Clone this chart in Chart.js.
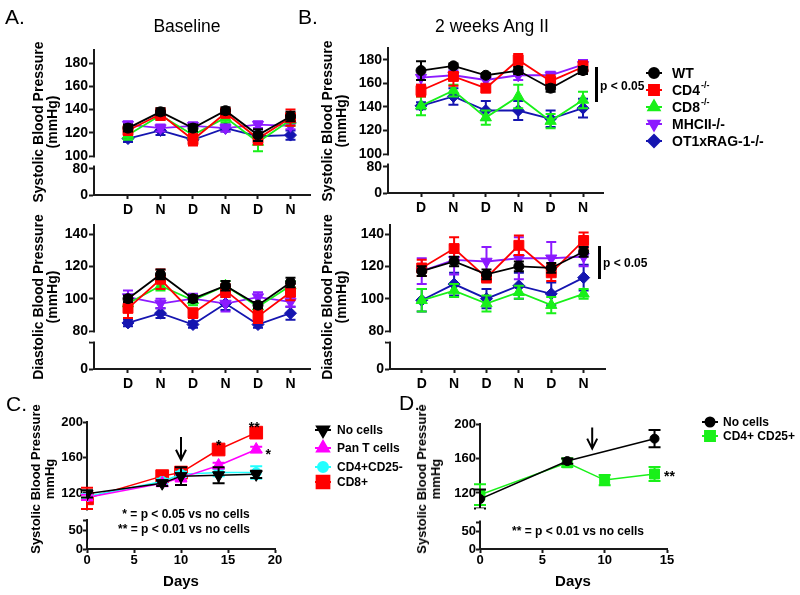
<!DOCTYPE html>
<html>
<head>
<meta charset="utf-8">
<title>Blood pressure panels</title>
<script src="https://cdn.jsdelivr.net/npm/chart.js@4.4.1/dist/chart.umd.min.js"></script>
<style>
  html, body { margin: 0; padding: 0; background: #fff; }
  body { width: 800px; height: 595px; position: relative; overflow: hidden;
         font-family: "Liberation Sans", Arial, Helvetica, sans-serif; color: #000; }
  canvas { position: absolute; left: 0; top: 0; }
  .lbl { position: absolute; white-space: nowrap; line-height: 1; }
  .bar { position: absolute; background: #000; width: 3px; }
</style>
</head>
<body>
<canvas id="aSys" width="800" height="595"></canvas>
<canvas id="aDia" width="800" height="595"></canvas>
<canvas id="bSys" width="800" height="595"></canvas>
<canvas id="bDia" width="800" height="595"></canvas>
<canvas id="cChart" width="800" height="595"></canvas>
<canvas id="dChart" width="800" height="595"></canvas>
<div class="bar" style="left:595px;top:67px;height:35px"></div>
<div class="bar" style="left:598px;top:246px;height:33px"></div>
<script>
// categories (day / night readings)
const cats = ['D', 'N', 'D', 'N', 'D', 'N'];
const grpNames = ['WT', 'CD4', 'CD8', 'MHCII-/-', 'OT1xRAG-1-/-'];
const grpSup = ['', '-/-', '-/-', '', ''];

// A. baseline systolic, rows = WT, CD4, CD8, MHCII, OT1
const baseSys = [
  [124, 138, 124, 139, 118, 134],
  [122, 136, 114, 137, 115, 133],
  [118, 135, 118, 133, 112, 131],
  [127, 124, 126, 124, 127, 126],
  [115, 122, 114, 124, 117, 118]
];
const baseSysErr = [
  [3, 3, 3, 3, 5, 4],
  [4, 5, 5, 4, 5, 7],
  [4, 4, 5, 4, 8, 5],
  [3, 3, 3, 3, 3, 3],
  [3, 4, 3, 3, 4, 4]
];
// A. baseline diastolic
const baseDia = [
  [100, 115, 100, 108, 96, 110],
  [94, 112, 91, 105, 89, 104],
  [97, 108, 99, 108, 95, 108],
  [101, 97, 100, 97, 101, 98],
  [85, 91, 84, 97, 84, 91]
];
const baseDiaErr = [
  [2, 3, 2, 3, 2, 3],
  [6, 6, 3, 4, 4, 5],
  [3, 3, 3, 3, 3, 3],
  [4, 3, 3, 5, 3, 3],
  [2, 3, 2, 4, 2, 4]
];
// B. 2 weeks Ang II systolic
const angSys = [
  [171, 175, 167, 171, 156, 171],
  [154, 166, 156, 180, 162, 174],
  [141, 154, 131, 149, 128, 146],
  [165, 167, 163, 167, 167, 176],
  [141, 149, 137, 137, 130, 139]
];
const angSysErr = [
  [8, 2, 2, 3, 3, 3],
  [5, 8, 3, 5, 5, 5],
  [8, 5, 6, 10, 6, 7],
  [6, 4, 4, 4, 3, 4],
  [3, 7, 8, 8, 7, 8]
];
// B. 2 weeks Ang II diastolic
const angDia = [
  [117, 123, 115, 120, 119, 129],
  [119, 131, 113, 133, 116, 136],
  [99, 105, 97, 104, 96, 103],
  [117, 124, 123, 125, 125, 126],
  [99, 109, 100, 108, 103, 113]
];
const angDiaErr = [
  [3, 3, 3, 3, 3, 3],
  [5, 7, 3, 6, 5, 5],
  [7, 4, 5, 4, 5, 3],
  [8, 9, 9, 13, 10, 6],
  [7, 7, 6, 8, 7, 8]
];

// C. adoptive transfer, systolic vs days
const cDays = [0, 8, 10, 14, 18];
const cNames = ['No cells', 'Pan T cells', 'CD4+CD25-', 'CD8+'];
const cNoCells = [119, 131, 139, 140, 141];
const cNoCellsErr = [4, 3, 10, 9, 4];
const cPanT = [115, 131, 137, 151, 169];
const cPanTErr = [3, 3, 4, 3, 3];
const cCd25neg = [116, 133, 141, 143, 143];
const cCd25negErr = [3, 3, 3, 4, 7];
const cCd8 = [114, 139, 143, 169, 188];
const cCd8Err = [12, 3, 6, 3, 3];

// D. Treg transfer
const dNames = ['No cells', 'CD4+ CD25+'];
const dDaysNo = [0, 7, 14];
const dNoCells = [113, 157, 183];
const dNoCellsErr = [11, 3, 10];
const dDaysTreg = [0, 7, 10, 14];
const dTreg = [118, 155, 135, 142];
const dTregErr = [12, 5, 6, 8];

const grpColors = ['#000000', '#ff0000', '#19f019', '#8c1aff', '#1515b0'];
const grpStyles = ['circle', 'rect', 'triangle', 'triangle', 'rectRot'];
const grpRot = [0, 0, 0, 180, 0];
const grpRadius = [5, 7, 6.5, 6.5, 6];

Chart.defaults.font.family = '"Liberation Sans", Arial, Helvetica, sans-serif';
Chart.defaults.color = '#000';

// error bars drawn just before each dataset
const errBars = {
  id: 'errBars',
  beforeDatasetDraw(chart, args) {
    const ds = chart.data.datasets[args.index];
    if (!ds.err) return;
    const meta = args.meta, ys = chart.scales[meta.yAxisID], ctx = chart.ctx;
    const cap = ds.capHalf || 5;
    ctx.save();
    ctx.strokeStyle = ds.borderColor;
    ctx.lineWidth = ds.errWidth || 2;
    meta.data.forEach((pt, i) => {
      const e = ds.err[i];
      if (!e) return;
      const v = ds.data[i].y;
      const top = ys.getPixelForValue(v + e), bot = ys.getPixelForValue(v - e);
      ctx.beginPath();
      ctx.moveTo(pt.x, top); ctx.lineTo(pt.x, bot);
      ctx.moveTo(pt.x - cap, top); ctx.lineTo(pt.x + cap, top);
      ctx.moveTo(pt.x - cap, bot); ctx.lineTo(pt.x + cap, bot);
      ctx.stroke();
    });
    ctx.restore();
  }
};

// gap in the broken y axis
const axisGap = {
  id: 'axisGap',
  afterDraw(chart, args, o) {
    if (o.upperEnd === undefined) return;
    const ctx = chart.ctx, x = chart.chartArea.left;
    const y1 = chart.scales.y.getPixelForValue(o.upperEnd) + 1.5;
    const y2 = chart.scales.y2.getPixelForValue(o.lowerEnd) - 1.5;
    ctx.save();
    ctx.fillStyle = '#fff';
    ctx.fillRect(x - 4, y1, 8, y2 - y1);
    ctx.restore();
  }
};

// legend with line + marker and optional superscript
const keyBox = {
  id: 'keyBox',
  afterDraw(chart, args, o) {
    if (!o.labels) return;
    const ctx = chart.ctx;
    ctx.save();
    chart.data.datasets.forEach((ds, i) => {
      const y = o.ys[i];
      ctx.strokeStyle = ds.borderColor;
      ctx.fillStyle = ds.backgroundColor;
      ctx.lineWidth = 2;
      ctx.beginPath();
      ctx.moveTo(o.x - o.half, y); ctx.lineTo(o.x + o.half, y);
      ctx.stroke();
      Chart.helpers.drawPoint(ctx, {pointStyle: ds.pointStyle, rotation: ds.pointRotation || 0,
        radius: ds.pointRadius, borderWidth: 1}, o.x, y);
      ctx.fillStyle = '#000';
      ctx.textBaseline = 'middle';
      ctx.textAlign = 'left';
      ctx.font = 'bold ' + o.size + 'px "Liberation Sans", Arial, sans-serif';
      const main = o.labels[i][0], sup = o.labels[i][1];
      ctx.fillText(main, o.textX, y + 1);
      if (sup) {
        const w = ctx.measureText(main).width;
        ctx.font = 'bold ' + Math.round(o.size * 0.62) + 'px "Liberation Sans", Arial, sans-serif';
        ctx.fillText(sup, o.textX + w + 1, y - 4);
      }
    });
    ctx.restore();
  }
};

// arrows and significance stars
const marks = {
  id: 'marks',
  afterDatasetsDraw(chart, args, o) {
    const ctx = chart.ctx, xs = chart.scales.x, ys = chart.scales.y;
    ctx.save();
    ctx.strokeStyle = '#000';
    ctx.fillStyle = '#000';
    ctx.lineWidth = 2;
    (o.arrows || []).forEach(a => {
      const x = xs.getPixelForValue(a.x), t = ys.getPixelForValue(a.top), p = ys.getPixelForValue(a.tip);
      ctx.beginPath();
      ctx.moveTo(x, t); ctx.lineTo(x, p - 1);
      ctx.moveTo(x - 5, p - 10); ctx.lineTo(x, p); ctx.lineTo(x + 5, p - 10);
      ctx.stroke();
    });
    ctx.font = 'bold 14px "Liberation Sans", Arial, sans-serif';
    ctx.textAlign = 'center';
    ctx.textBaseline = 'alphabetic';
    (o.stars || []).forEach(s => {
      ctx.fillText(s.text, xs.getPixelForValue(s.x) + s.dx, ys.getPixelForValue(s.y) + s.dy + 8);
    });
    ctx.restore();
  }
};

Chart.register(errBars, axisGap, keyBox, marks);

const axisColor = '#1a1a1a';

function brokenY(o) {
  const font = {size: o.size, weight: 'bold'};
  const common = {
    type: 'linear', position: 'left', stack: 'v',
    grid: {drawOnChartArea: false, tickLength: o.tick, tickWidth: 2, tickColor: axisColor},
    border: {color: axisColor, width: 2},
    afterFit: s => { s.width = o.width; }
  };
  return {
    y: Object.assign({}, common, {
      weight: 2, stackWeight: o.upWeight, min: o.upMin, max: o.upMax,
      afterBuildTicks: s => { s.ticks = o.upTicks.map(v => ({value: v})); },
      ticks: {font, color: '#000', padding: o.pad, autoSkip: false, callback: v => String(v)}
    }),
    y2: Object.assign({}, common, {
      weight: 1, stackWeight: o.loWeight, min: 0, max: o.loMax,
      afterBuildTicks: s => { s.ticks = o.loTicks.map(v => ({value: v})); },
      ticks: {font, color: '#000', padding: o.pad, autoSkip: false,
              callback: v => (o.loLabels.includes(v) ? String(v) : '')}
    })
  };
}

function xAxis(o) {
  return {
    type: 'linear', min: o.min, max: o.max,
    afterBuildTicks: s => { s.ticks = o.ticks.map(v => ({value: v})); },
    afterFit: s => { s.height = o.height; },
    ticks: {font: {size: o.size, weight: 'bold'}, color: '#000', padding: o.pad,
            autoSkip: false, maxRotation: 0, callback: o.labels},
    grid: {drawOnChartArea: false, tickLength: 4, tickWidth: 2, tickColor: axisColor},
    border: {color: axisColor, width: 2}
  };
}

function baseOptions(area, yW, xH, scales, plugins) {
  return {
    responsive: false, animation: false, devicePixelRatio: 1,
    events: [],
    layout: {autoPadding: false, padding: {left: area.left - yW, top: area.top,
      right: 800 - area.right, bottom: 595 - area.bottom - xH}},
    scales,
    plugins: Object.assign({legend: {display: false}, tooltip: {enabled: false}}, plugins)
  };
}

function groupChart(id, means, errs, area, xr, yo, extra) {
  const datasets = means.map((m, i) => ({
    label: grpNames[i] + grpSup[i],
    data: m.map((v, j) => ({x: j, y: v})),
    err: errs[i], capHalf: 5, errWidth: 2,
    borderColor: grpColors[i], backgroundColor: grpColors[i],
    borderWidth: 1.8, pointStyle: grpStyles[i], pointRotation: grpRot[i],
    pointRadius: grpRadius[i], pointBorderWidth: 1
  }));
  const scales = Object.assign({
    x: xAxis({min: xr[0], max: xr[1], ticks: [0, 1, 2, 3, 4, 5], size: 14, pad: 3, height: 30,
              labels: v => cats[v]})
  }, brokenY(yo));
  return new Chart(document.getElementById(id), {
    type: 'line',
    data: {datasets},
    options: baseOptions(area, yo.width, 30, scales, Object.assign({
      axisGap: {upperEnd: yo.upperEnd, lowerEnd: yo.lowerEnd}
    }, extra || {}))
  });
}

// A. baseline
groupChart('aSys', baseSys, baseSysErr, {left: 94, right: 310, top: 50, bottom: 195}, [-1.046, 5.6],
  {width: 40, size: 14, tick: 5, pad: 1, upMin: 94.84, upMax: 191.2, upTicks: [100, 120, 140, 160, 180],
   upWeight: 112, loMax: 101.5, loTicks: [0, 80], loLabels: [0, 80], loWeight: 33, upperEnd: 100, lowerEnd: 86});
groupChart('aDia', baseDia, baseDiaErr, {left: 94, right: 310, top: 225, bottom: 369}, [-1.046, 5.6],
  {width: 40, size: 14, tick: 5, pad: 1, upMin: 76.29, upMax: 145.57, upTicks: [80, 100, 120, 140],
   upWeight: 112, loMax: 49.2, loTicks: [0, 40], loLabels: [0], loWeight: 32, upperEnd: 80, lowerEnd: 40});

// B. 2 weeks Ang II
groupChart('bSys', angSys, angSysErr, {left: 388, right: 603, top: 48, bottom: 193}, [-1.019, 5.617],
  {width: 40, size: 14, tick: 5, pad: 1, upMin: 94.9, upMax: 190.2, upTicks: [100, 120, 140, 160, 180],
   upWeight: 112, loMax: 101.5, loTicks: [0, 80], loLabels: [0, 80], loWeight: 33, upperEnd: 100, lowerEnd: 86},
  {keyBox: {x: 654, half: 8, textX: 672, size: 14, ys: [73, 90, 107, 124, 141],
            labels: grpNames.map((n, i) => [n, grpSup[i]])}});
groupChart('bDia', angDia, angDiaErr, {left: 390, right: 605, top: 225, bottom: 369}, [-0.98, 5.66],
  {width: 40, size: 14, tick: 5, pad: 1, upMin: 76.29, upMax: 145.57, upTicks: [80, 100, 120, 140],
   upWeight: 112, loMax: 49.2, loTicks: [0, 40], loLabels: [0], loWeight: 32, upperEnd: 80, lowerEnd: 40});

function series(label, days, vals, errs, color, style, rot, r) {
  return {
    label, data: days.map((d, i) => ({x: d, y: vals[i]})), err: errs, capHalf: 6, errWidth: 2,
    borderColor: color, backgroundColor: color, borderWidth: 1.5,
    pointStyle: style, pointRotation: rot, pointRadius: r, pointBorderWidth: 1
  };
}

// C. adoptive transfer
new Chart(document.getElementById('cChart'), {
  type: 'line',
  data: {datasets: [
    series(cNames[0], cDays, cNoCells, cNoCellsErr, '#000000', 'triangle', 180, 7),
    series(cNames[1], cDays, cPanT, cPanTErr, '#ff00ff', 'triangle', 0, 7),
    series(cNames[2], cDays, cCd25neg, cCd25negErr, '#22ffff', 'circle', 0, 5),
    series(cNames[3], cDays, cCd8, cCd8Err, '#ff0000', 'rect', 0, 9)
  ]},
  options: baseOptions({left: 87, right: 275, top: 422, bottom: 549}, 30, 20, Object.assign({
    x: xAxis({min: 0, max: 20, ticks: [0, 5, 10, 15, 20], size: 13, pad: 0, height: 20, labels: v => String(v)})
  }, brokenY({width: 30, size: 13, tick: 4, pad: 0, upMin: 95.2, upMax: 200, upTicks: [120, 160, 200],
    upWeight: 93, loMax: 89.5, loTicks: [0, 50, 75], loLabels: [0, 50], loWeight: 34})), {
    axisGap: {upperEnd: 102, lowerEnd: 75},
    keyBox: {x: 323, half: 8, textX: 337, size: 12, ys: [430, 448, 467, 482],
             labels: cNames.map(n => [n, ''])},
    marks: {arrows: [{x: 10, top: 183, tip: 157.5}],
            stars: [{x: 14, y: 169, text: '*', dx: 0, dy: -8},
                    {x: 18, y: 188, text: '**', dx: -2, dy: -9},
                    {x: 18, y: 169, text: '*', dx: 12, dy: 1}]}
  })
});

// D. Treg transfer
new Chart(document.getElementById('dChart'), {
  type: 'line',
  data: {datasets: [
    series(dNames[0], dDaysNo, dNoCells, dNoCellsErr, '#000000', 'circle', 0, 4.5),
    series(dNames[1], dDaysTreg, dTreg, dTregErr, '#19f019', 'rect', 0, 7)
  ]},
  options: baseOptions({left: 480, right: 667, top: 424, bottom: 549}, 30, 20, Object.assign({
    x: xAxis({min: 0, max: 15, ticks: [0, 5, 10, 15], size: 13, pad: 0, height: 20, labels: v => String(v)})
  }, brokenY({width: 30, size: 13, tick: 4, pad: 0, upMin: 96.8, upMax: 200, upTicks: [120, 160, 200],
    upWeight: 89, loMax: 100, loTicks: [0, 50, 75], loLabels: [0, 50], loWeight: 36})), {
    axisGap: {upperEnd: 104, lowerEnd: 75},
    keyBox: {x: 710, half: 8, textX: 723, size: 12, ys: [422, 436],
             labels: dNames.map(n => [n, ''])},
    marks: {arrows: [{x: 9, top: 196, tip: 171.5}],
            stars: [{x: 14, y: 142, text: '**', dx: 15, dy: -1}]}
  })
});

// static text
function label(text, x, y, size, bold, center) {
  const d = document.createElement('div');
  d.className = 'lbl';
  d.textContent = text;
  d.style.fontSize = size + 'px';
  d.style.fontWeight = bold ? 'bold' : 'normal';
  d.style.left = x + 'px';
  d.style.top = (y - 0.49 * size) + 'px';
  if (center) d.style.transform = 'translateX(-50%)';
  document.body.appendChild(d);
}
function sideTitle(lines, cx, cy, size, gap) {
  const d = document.createElement('div');
  d.className = 'lbl';
  d.style.fontSize = size + 'px';
  d.style.fontWeight = 'bold';
  d.style.lineHeight = gap + 'px';
  d.style.textAlign = 'center';
  d.style.left = cx + 'px';
  d.style.top = cy + 'px';
  d.style.transform = 'translate(-50%,-50%) rotate(-90deg)';
  d.innerHTML = lines.join('<br>');
  document.body.appendChild(d);
}

label('A.', 5, 16, 21, false, false);
label('B.', 298, 16, 21, false, false);
label('C.', 6, 403, 21, false, false);
label('D.', 399, 402, 21, false, false);
label('Baseline', 187, 27, 17.5, false, true);
label('2 weeks Ang II', 492, 27, 17.5, false, true);
label('p < 0.05', 600, 86, 12, true, false);
label('p < 0.05', 603, 263, 12, true, false);
label('* = p < 0.05 vs no cells', 186, 514, 12, true, true);
label('** = p < 0.01 vs no cells', 184, 529, 12, true, true);
label('** = p < 0.01 vs no cells', 578, 531, 12, true, true);
label('Days', 181, 580, 15, true, true);
label('Days', 573, 580, 15, true, true);

sideTitle(['Systolic Blood Pressure', '(mmHg)'], 45, 122, 14, 14);
sideTitle(['Diastolic Blood Pressure', '(mmHg)'], 45, 297, 14, 14);
sideTitle(['Systolic Blood Pressure', '(mmHg)'], 334, 121, 14, 14);
sideTitle(['Diastolic Blood Pressure', '(mmHg)'], 334, 297, 14, 14);
sideTitle(['Systolic Blood Pressure', 'mmHg'], 43, 479, 13, 14);
sideTitle(['Systolic Blood Pressure', 'mmHg'], 429, 479, 13, 14);
</script>
</body>
</html>
